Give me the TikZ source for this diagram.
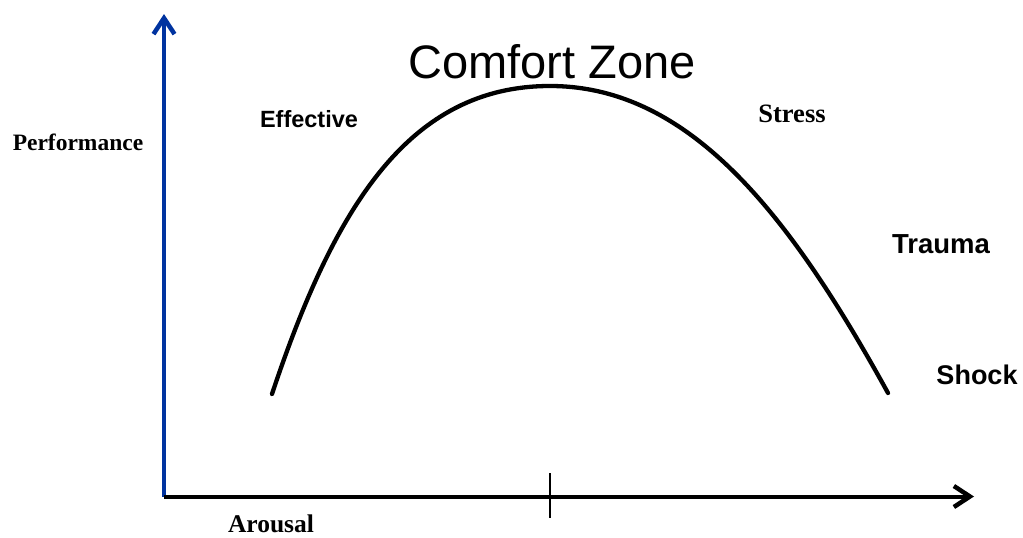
\documentclass[tikz,border=0pt]{standalone}
\usepackage{fontspec}
\setmainfont{Liberation Serif}
\newfontfamily\arial{Liberation Sans}
\usetikzlibrary{arrows.meta}
\definecolor{axisblue}{HTML}{0033A0}
\tikzset{
  axisline/.style={line width=4pt},
  barb/.style={-{Straight Barb[length=16pt,width=21pt,line width=4.5pt]}},
  curveline/.style={line width=4.3pt, line cap=round},
  serlabel/.style={font=\bfseries, anchor=base, inner sep=0pt},
  sanslabel/.style={font=\arial\bfseries, anchor=base, inner sep=0pt},
}
\begin{document}
\begin{tikzpicture}[x=1pt,y=-1pt]
\useasboundingbox (0,0) rectangle (1023,538);
\coordinate (O) at (164,496.5);
\coordinate (Ytip) at (164,14);
\coordinate (Xtip) at (974,496.5);
\coordinate (tickT) at (550,473);
\coordinate (tickB) at (550,518);
\coordinate (cS) at (272,394);
\coordinate (cP) at (550,86);
\coordinate (cE) at (888,393);
\draw[axisline, axisblue, barb] (O) -- (Ytip);
\draw[axisline, black, barb] (O) -- (Xtip);
\draw[line width=1.5pt] (tickT) -- (tickB);
\draw[curveline] (cS) .. controls (335,205) and (410,86) .. (cP)
  .. controls (690,86) and (790,215) .. (cE);
\node[sanslabel, font=\arial\fontsize{47}{50}\selectfont] (cz) at (552,78) {Comfort Zone};
\node[sanslabel, font=\arial\bfseries\fontsize{23.5}{26}\selectfont] (eff) at (309,127) {Effective};
\node[serlabel, font=\bfseries\fontsize{26.5}{30}\selectfont] (str) at (792,122) {Stress};
\node[sanslabel, font=\arial\bfseries\fontsize{27.5}{30}\selectfont] (tra) at (941,253) {Trauma};
\node[sanslabel, font=\arial\bfseries\fontsize{27}{30}\selectfont] (sho) at (977,384) {Shock};
\node[serlabel, font=\bfseries\fontsize{23.5}{26}\selectfont] (perf) at (78,150) {Performance};
\node[serlabel, font=\bfseries\fontsize{25.5}{28}\selectfont] (aro) at (271,532) {Arousal};
\end{tikzpicture}
\end{document}
